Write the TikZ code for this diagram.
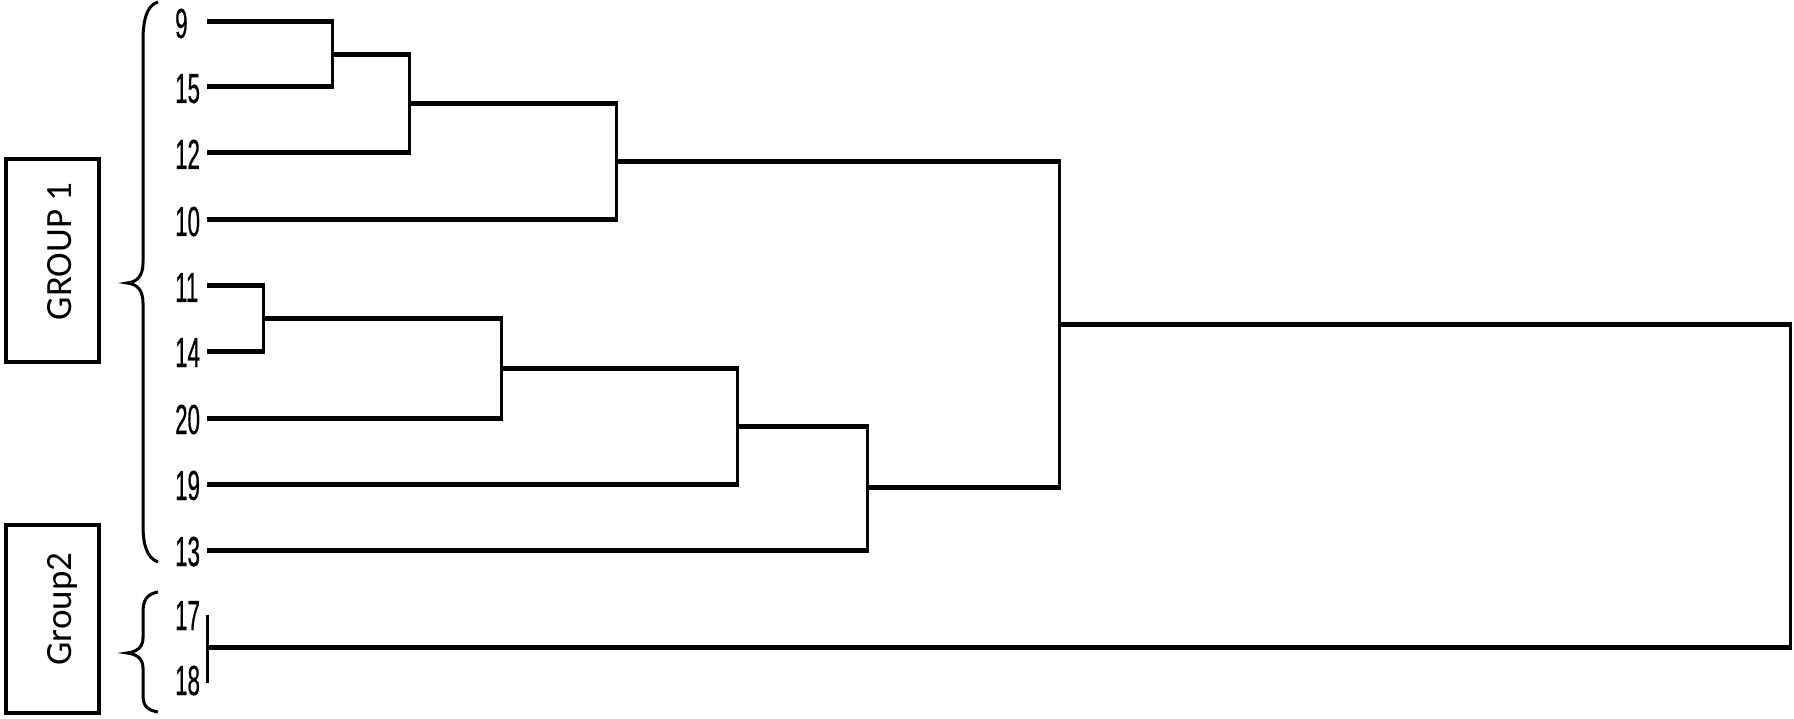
\documentclass[tikz,border=0pt]{standalone}
\usepackage{fontspec}
\setmainfont{Carlito}
\newfontfamily\narrowdigits[FakeStretch=0.53,FakeBold=0.6]{Liberation Sans}
\begin{document}
\begin{tikzpicture}[x=1pt,y=-1pt,
  hz/.style={line width=5pt, shorten >=-1.5pt},
  vt/.style={line width=3pt},
  grpbox/.style={draw, line width=3.5pt, rectangle, inner sep=0pt, minimum width=93pt},
  grptext/.style={rotate=90, anchor=base, inner sep=0pt, font=\fontsize{37}{40}\selectfont},
  leaflabel/.style={anchor=base west, inner sep=0pt, font=\narrowdigits\fontsize{42}{44}\selectfont},
  bracepath/.style={line width=3pt}]
\useasboundingbox (0,0) rectangle (1794,719);

% leaves
\coordinate (l9) at (207,22);
\coordinate (l15) at (207,87);
\coordinate (l12) at (207,153);
\coordinate (l10) at (207,220);
\coordinate (l11) at (207,286);
\coordinate (l14) at (207,351);
\coordinate (l20) at (207,418);
\coordinate (l19) at (207,484);
\coordinate (l13) at (207,550);
\coordinate (g2) at (207,647);
\coordinate (g2top) at (207,615);
\coordinate (g2bot) at (207,683);

% merges
\coordinate (m1) at (332,54.5);
\coordinate (m2) at (409,103.75);
\coordinate (m3) at (616,162);
\coordinate (m4) at (263,318.5);
\coordinate (m5) at (501,368);
\coordinate (m6) at (737,426);
\coordinate (m7) at (867,487);
\coordinate (m8) at (1059,324.5);
\coordinate (m9) at (1790,485.75);

% labels
\node[leaflabel] (t9) at (175,38) {9};
\node[leaflabel] (t15) at (175,103) {15};
\node[leaflabel] (t12) at (175,169) {12};
\node[leaflabel] (t10) at (175,236) {10};
\node[leaflabel] (t11) at (175,302) {11};
\node[leaflabel] (t14) at (175,367) {14};
\node[leaflabel] (t20) at (175,434) {20};
\node[leaflabel] (t19) at (175,500) {19};
\node[leaflabel] (t13) at (175,566) {13};
\node[leaflabel] (t17) at (175,630) {17};
\node[leaflabel] (t18) at (175,695) {18};

% dendrogram
\draw[hz] (l9) -- (l9 -| m1);
\draw[hz] (l15) -- (l15 -| m1);
\draw[vt] (l9 -| m1) -- (l15 -| m1);

\draw[hz] (m1) -- (m1 -| m2);
\draw[hz] (l12) -- (l12 -| m2);
\draw[vt] (m1 -| m2) -- (l12 -| m2);

\draw[hz] (m2) -- (m2 -| m3);
\draw[hz] (l10) -- (l10 -| m3);
\draw[vt] (m2 -| m3) -- (l10 -| m3);

\draw[hz] (l11) -- (l11 -| m4);
\draw[hz] (l14) -- (l14 -| m4);
\draw[vt] (l11 -| m4) -- (l14 -| m4);

\draw[hz] (m4) -- (m4 -| m5);
\draw[hz] (l20) -- (l20 -| m5);
\draw[vt] (m4 -| m5) -- (l20 -| m5);

\draw[hz] (m5) -- (m5 -| m6);
\draw[hz] (l19) -- (l19 -| m6);
\draw[vt] (m5 -| m6) -- (l19 -| m6);

\draw[hz] (m6) -- (m6 -| m7);
\draw[hz] (l13) -- (l13 -| m7);
\draw[vt] (m6 -| m7) -- (l13 -| m7);

\draw[hz] (m3) -- (m3 -| m8);
\draw[hz] (m7) -- (m7 -| m8);
\draw[vt] (m3 -| m8) -- (m7 -| m8);

\draw[vt] (g2top) -- (g2bot);
\draw[hz] (m8) -- (m8 -| m9);
\draw[hz] (g2) -- (g2 -| m9);
\draw[vt] (m8 -| m9) -- (g2 -| m9);

% group boxes
\node[grpbox, minimum height=203pt] (box1) at (52.5,260.5) {};
\node[grptext] (lab1) at (71,251.5) {GROUP 1};
\node[grpbox, minimum height=188pt] (box2) at (52.5,619) {};
\node[grptext] (lab2) at (71,609) {Group2};

% braces
\draw[bracepath] (158,2) .. controls (147,5) and (143,20) .. (143,40)
  -- (143,263) .. controls (143,276) and (137,282) .. (127,283)
  .. controls (137,284) and (143,290) .. (143,303)
  -- (143,525) .. controls (143,545) and (147,558) .. (158,562);
\draw[bracepath] (158,592) .. controls (147,594) and (143,600) .. (143,612)
  -- (143,638) .. controls (143,647) and (137,652) .. (127,653)
  .. controls (137,654) and (143,659) .. (143,668)
  -- (143,695) .. controls (143,706) and (147,710) .. (158,712);
\end{tikzpicture}
\end{document}
